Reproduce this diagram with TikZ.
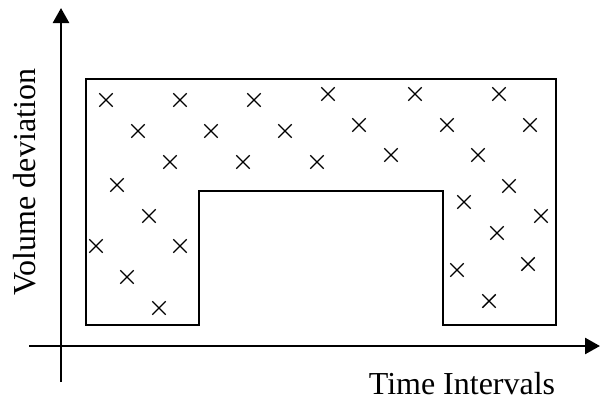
\documentclass[tikz,border=0pt]{standalone}
\usepackage{fontspec}
\setmainfont{Liberation Serif}
\usepackage{tikz}
\usetikzlibrary{
    arrows.meta,
    shapes.misc
}

\begin{document}
\begin{tikzpicture}[
  x=1pt,
  y=-1pt,
  axis/.style={-{Triangle[length=15pt,width=16pt]}, line width=2.6pt},
  outline/.style={line width=1.8pt, line join=miter},
  xmark/.style={
    draw,
    cross out,
    line width=1.4pt,
    minimum size=12pt,
    inner sep=0pt
  },
  axislabel/.style={font=\fontsize{32}{38}\selectfont, inner sep=0pt}
]
  \useasboundingbox (0,0) rectangle (600,402);

  % Axes.
  \coordinate (ybottom) at (61,382);
  \coordinate (ytop) at (61,8);
  \coordinate (xleft) at (29,346);
  \coordinate (xright) at (600,346);
  \draw[axis] (ybottom) -- (ytop);
  \draw[axis] (xleft) -- (xright);

  \node[axislabel, rotate=90] (ylabel) at (25,182) {Volume deviation};
  \node[axislabel] (xlabel) at (462,384) {Time Intervals};

  % Region with the raised middle step.
  \draw[outline] (86,79) -- (556,79) -- (556,325) -- (443,325) -- (443,191)
    -- (199,191) -- (199,325) -- (86,325) -- cycle;

  % Sample points.
  \foreach \px/\py [count=\i] in {
      106/100, 180/100, 254/100, 328/94, 415/94, 499/94,
      138/131, 211/131, 285/131, 359/125, 447/125, 530/125,
      170/162, 243/162, 317/162, 391/155, 478/155,
      117/185, 509/186, 149/216, 464/202, 541/216,
      96/246, 180/246, 497/233, 127/277, 528/264, 457/270,
      159/308, 489/301} {
    \node[xmark] (pt\i) at (\px,\py) {};
  }
\end{tikzpicture}
\end{document}
